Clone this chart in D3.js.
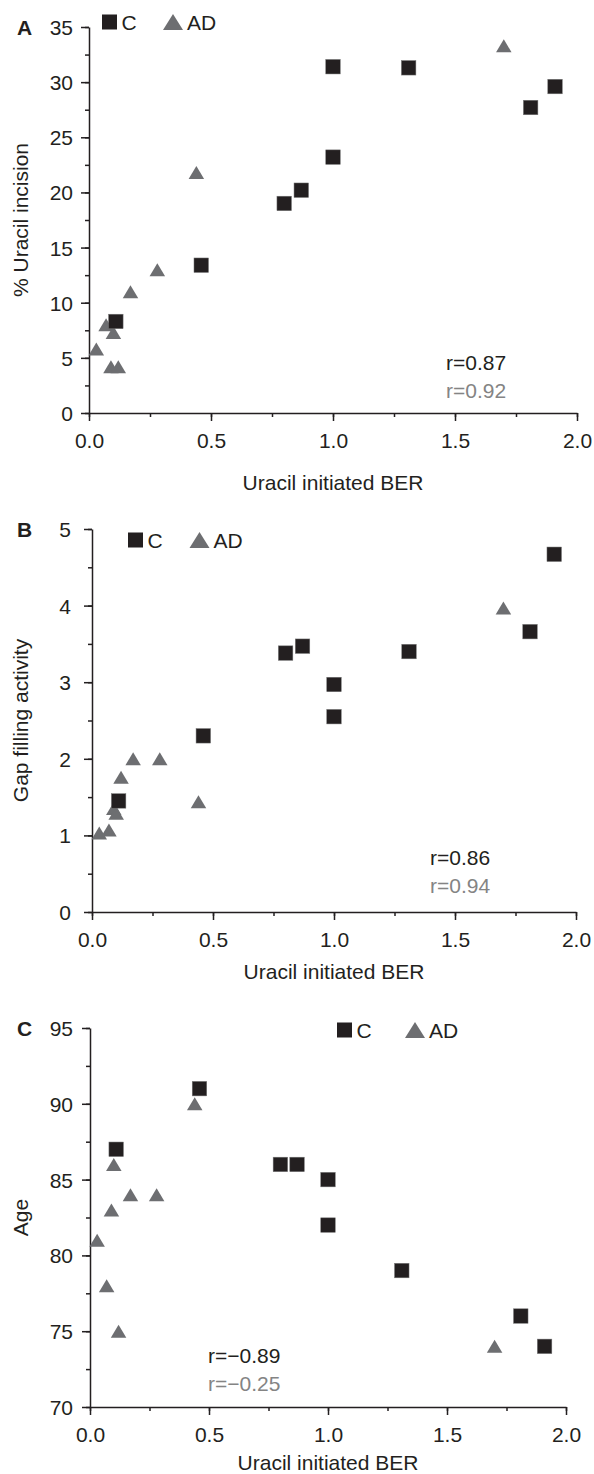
<!DOCTYPE html>
<html>
<head>
<meta charset="utf-8">
<script src="https://cdn.jsdelivr.net/npm/d3@7"></script>
<style>
    body { margin: 0; background: #fff; }
    svg { display: block; }
    text { font-family: "Liberation Sans", Arial, Helvetica, sans-serif; }
</style>
</head>
<body>
<div id="chart"></div>
<script>
// x values, shared by all three panels
var controlBer = [0.11, 0.46, 0.80, 0.87, 1.00, 1.00, 1.31, 1.81, 1.91];
var adBer = [0.03, 0.07, 0.09, 0.10, 0.12, 0.17, 0.28, 0.44, 1.70];
var berTicks = [0, 0.5, 1.0, 1.5, 2.0];

// panel A
var controlIncision = [8.3, 13.4, 19.0, 20.2, 23.2, 31.4, 31.3, 27.7, 29.6];
var adIncision = [5.8, 8.0, 4.2, 7.3, 4.2, 11.0, 13.0, 21.8, 33.3];
var incisionTicks = [0, 5, 10, 15, 20, 25, 30, 35];

// panel B
var controlGap = [1.45, 2.30, 3.38, 3.47, 2.97, 2.55, 3.40, 3.66, 4.67];
var adGap = [1.03, 1.07, 1.35, 1.29, 1.76, 2.0, 2.0, 1.44, 3.97];
var gapTicks = [0, 1, 2, 3, 4, 5];

// panel C
var controlAge = [87, 91, 86, 86, 85, 82, 79, 76, 74];
var adAge = [81, 78, 83, 86, 75, 84, 84, 90, 74];
var ageTicks = [70, 75, 80, 85, 90, 95];

var rLabels = {
    A: ["r=0.87", "r=0.92"],
    B: ["r=0.86", "r=0.94"],
    C: ["r=\u22120.89", "r=\u22120.25"]
};

var INK = "#231f20";
var GREY = "#6d6e71";
var GREY_TEXT = "#848484";
var FONT = 21;

var svg = d3.select("#chart").append("svg")
    .attr("width", 594)
    .attr("height", 1474);

function trianglePath(w, h) {
    return "M0," + (-h / 2) + "L" + (w / 2) + "," + (h / 2) + "L" + (-w / 2) + "," + (h / 2) + "Z";
}

function zip(a, b) {
    var out = [];
    for (var i = 0; i < a.length; i++) out.push([a[i], b[i]]);
    return out;
}

function drawPanel(cfg) {
    var g = svg.append("g");
    var x = d3.scaleLinear().domain([0, 2]).range(cfg.xRange);
    var y = d3.scaleLinear().domain(cfg.yDomain).range(cfg.yRange);

    // minor ticks first, major axis on top
    var minorX = d3.range(0, 2.0001, 0.25);
    g.append("g")
        .attr("transform", "translate(0," + cfg.yRange[0] + ")")
        .call(d3.axisBottom(x).tickValues(minorX).tickSize(4).tickFormat(""))
        .call(function (a) { a.select(".domain").remove(); });
    var xAxis = g.append("g")
        .attr("transform", "translate(0," + cfg.yRange[0] + ")")
        .call(d3.axisBottom(x).tickValues(berTicks).tickSize(8).tickSizeOuter(0)
            .tickPadding(7).tickFormat(d3.format(".1f")));

    var minorY = d3.range(cfg.yDomain[0], cfg.yDomain[1] + 0.0001, cfg.yMinor);
    g.append("g")
        .attr("transform", "translate(" + cfg.xRange[0] + ",0)")
        .call(d3.axisLeft(y).tickValues(minorY).tickSize(4).tickFormat(""))
        .call(function (a) { a.select(".domain").remove(); });
    var yAxis = g.append("g")
        .attr("transform", "translate(" + cfg.xRange[0] + ",0)")
        .call(d3.axisLeft(y).tickValues(cfg.yTicks).tickSize(8).tickSizeOuter(0)
            .tickPadding(cfg.yPad).tickFormat(d3.format("d")));

    g.selectAll(".domain, .tick line")
        .attr("stroke", INK)
        .attr("stroke-width", 1.5);
    g.selectAll(".tick text")
        .attr("font-size", FONT)
        .attr("font-family", "Liberation Sans, Arial, sans-serif")
        .attr("fill", INK);
    xAxis.selectAll(".tick text").attr("dy", "0.95em");
    yAxis.selectAll(".tick text").attr("dy", "0.36em");

    // titles
    g.append("text")
        .attr("x", (cfg.xRange[0] + cfg.xRange[1]) / 2)
        .attr("y", cfg.xTitleY)
        .attr("text-anchor", "middle")
        .attr("font-size", FONT)
        .attr("fill", INK)
        .text("Uracil initiated BER");
    g.append("text")
        .attr("transform", "translate(28," + ((cfg.yRange[0] + cfg.yRange[1]) / 2) + ") rotate(-90)")
        .attr("text-anchor", "middle")
        .attr("font-size", FONT)
        .attr("fill", INK)
        .text(cfg.yTitle);
    g.append("text")
        .attr("x", 17)
        .attr("y", cfg.yRange[1] + 8)
        .attr("font-size", FONT)
        .attr("font-weight", "bold")
        .attr("fill", INK)
        .text(cfg.letter);

    // points: AD under, C over
    g.selectAll(".ad").data(zip(adBer, cfg.adY)).enter()
        .append("path")
        .attr("class", "ad")
        .attr("d", trianglePath(15.5, 13))
        .attr("fill", GREY)
        .attr("transform", function (d) { return "translate(" + x(d[0]) + "," + y(d[1]) + ")"; });
    g.selectAll(".ctl").data(zip(controlBer, cfg.controlY)).enter()
        .append("rect")
        .attr("class", "ctl")
        .attr("x", function (d) { return x(d[0]) - 7.25; })
        .attr("y", function (d) { return y(d[1]) - 7.25; })
        .attr("width", 14.5)
        .attr("height", 14.5)
        .attr("fill", INK)
        .attr("stroke", "#777")
        .attr("stroke-width", 0.5);

    // legend
    var lg = cfg.legend;
    g.append("rect")
        .attr("x", lg.sq - 7.5).attr("y", lg.y - 7.5)
        .attr("width", 15).attr("height", 15)
        .attr("fill", INK);
    g.append("text")
        .attr("x", lg.sq + 12).attr("y", lg.y + 7.5)
        .attr("font-size", FONT).attr("fill", INK)
        .text("C");
    g.append("path")
        .attr("d", trianglePath(20, 16))
        .attr("transform", "translate(" + lg.tri + "," + lg.y + ")")
        .attr("fill", GREY);
    g.append("text")
        .attr("x", lg.tri + 14).attr("y", lg.y + 7.5)
        .attr("font-size", FONT).attr("fill", INK)
        .text("AD");

    // correlation coefficients
    var r = rLabels[cfg.letter];
    g.append("text")
        .attr("x", cfg.rX).attr("y", cfg.rY)
        .attr("font-size", FONT).attr("fill", INK)
        .text(r[0]);
    g.append("text")
        .attr("x", cfg.rX).attr("y", cfg.rY + 28)
        .attr("font-size", FONT).attr("fill", GREY_TEXT)
        .text(r[1]);
}

drawPanel({
    letter: "A",
    xRange: [89, 577], yRange: [413, 27], yDomain: [0, 35],
    yTicks: incisionTicks, yMinor: 2.5, yPad: 8,
    yTitle: "% Uracil incision", xTitleY: 490,
    controlY: controlIncision, adY: adIncision,
    legend: { sq: 109.5, tri: 173, y: 22 },
    rX: 446, rY: 370
});

drawPanel({
    letter: "B",
    xRange: [92, 576], yRange: [912, 529], yDomain: [0, 5],
    yTicks: gapTicks, yMinor: 0.5, yPad: 13,
    yTitle: "Gap filling activity", xTitleY: 979,
    controlY: controlGap, adY: adGap,
    legend: { sq: 135.5, tri: 199.5, y: 540 },
    rX: 430, rY: 865
});

drawPanel({
    letter: "C",
    xRange: [90, 566], yRange: [1407, 1028], yDomain: [70, 95],
    yTicks: ageTicks, yMinor: 2.5, yPad: 9,
    yTitle: "Age", xTitleY: 1470,
    controlY: controlAge, adY: adAge,
    legend: { sq: 344.5, tri: 415, y: 1030 },
    rX: 208, rY: 1363
});
</script>
</body>
</html>
